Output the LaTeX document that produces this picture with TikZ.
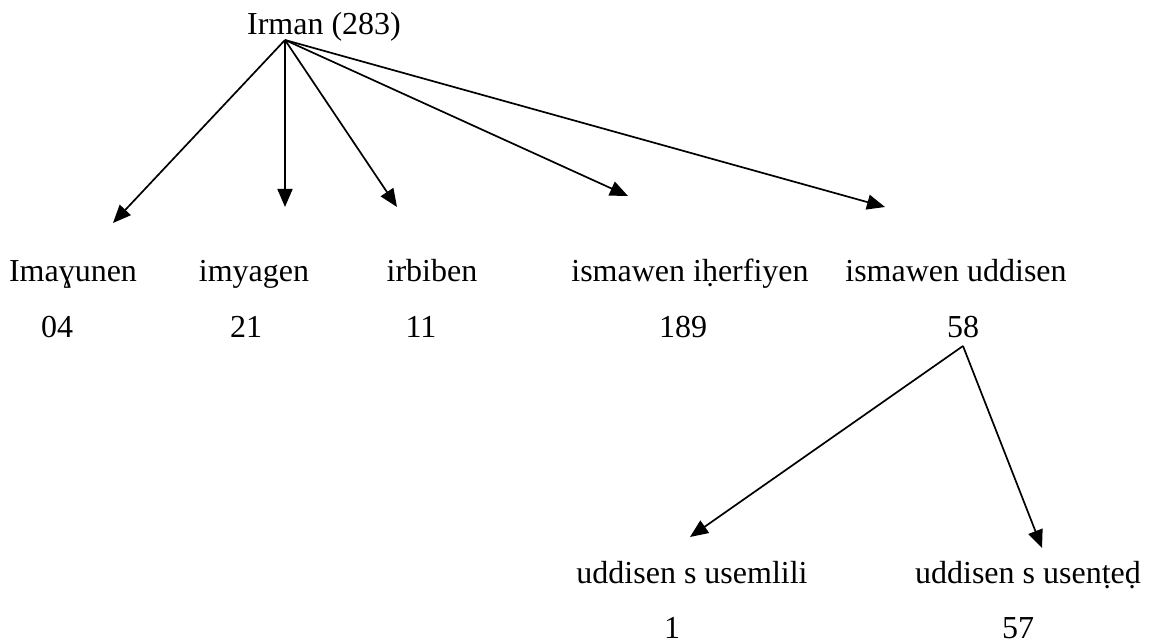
\documentclass[tikz,border=0pt]{standalone}
\usepackage{fontspec}
\setmainfont{Liberation Serif}
\usetikzlibrary{arrows.meta}

\begin{document}
\begin{tikzpicture}[x=1pt,y=-1pt,
    lbl/.style={font=\fontsize{32}{38}\selectfont, inner sep=0pt, anchor=base},
    arr/.style={-{Triangle[length=18pt,width=15pt]}, line width=1.7pt}]
        \useasboundingbox (0,0) rectangle (1149,644);
        \node[lbl] (root) at (324,35) {Irman (283)};
        \coordinate (top) at (285,40);
        % first level
        \node[lbl] (amaɣun) at (73,282) {Imaɣunen};
        \node[lbl] (amaɣunN) at (57,338) {04};
        \node[lbl] (imyagen) at (254,282) {imyagen};
        \node[lbl] (imyagenN) at (246,338) {21};
        \node[lbl] (irbiben) at (432,282) {irbiben};
        \node[lbl] (irbibenN) at (421,338) {11};
        \node[lbl] (iherfiyen) at (690,282) {ismawen iḥerfiyen};
        \node[lbl] (iherfiyenN) at (683,338) {189};
        \node[lbl] (uddisen) at (956,282) {ismawen uddisen};
        \node[lbl] (uddisenN) at (963,338) {58};
        \coordinate (t1) at (113,223);
        \coordinate (t2) at (285,207);
        \coordinate (t3) at (397,207);
        \coordinate (t4) at (628,196);
        \coordinate (t5) at (885,207);
        \draw[arr] (top) -- (t1);
        \draw[arr] (top) -- (t2);
        \draw[arr] (top) -- (t3);
        \draw[arr] (top) -- (t4);
        \draw[arr] (top) -- (t5);
        % second level
        \coordinate (sub) at (963,346);
        \node[lbl] (usemlili) at (692,583) {uddisen s usemlili};
        \node[lbl] (usemliliN) at (672,638) {1};
        \node[lbl] (usented) at (1028,583) {uddisen s usenṭeḍ};
        \node[lbl] (usentedN) at (1018,638) {57};
        \coordinate (t6) at (690,537);
        \coordinate (t7) at (1042,548);
        \draw[arr] (sub) -- (t6);
        \draw[arr] (sub) -- (t7);
      \end{tikzpicture}
\end{document}
